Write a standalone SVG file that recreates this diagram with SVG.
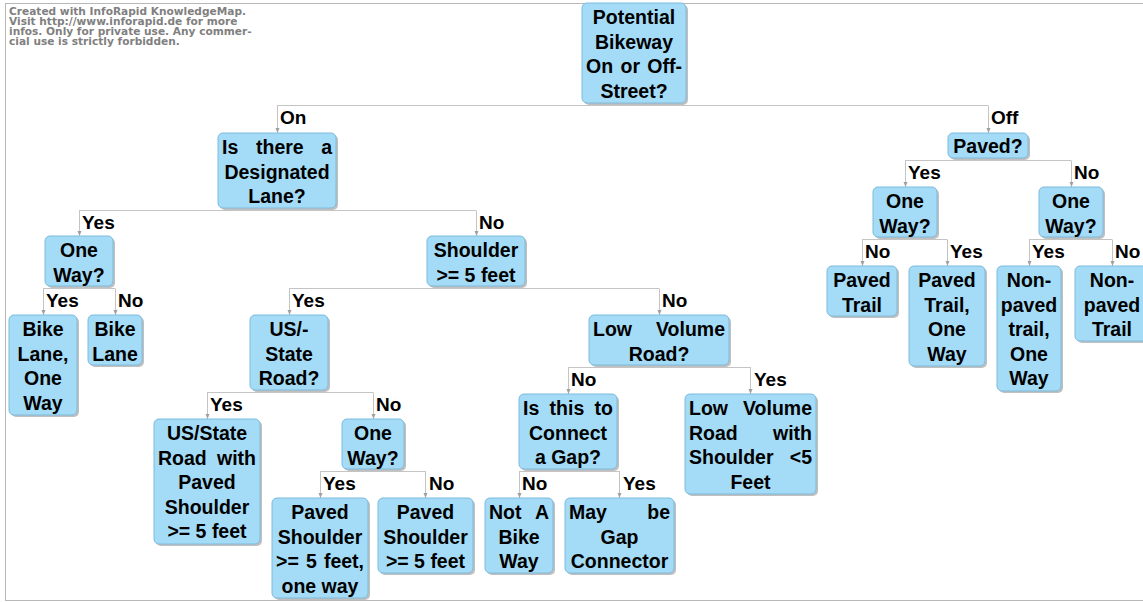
<svg xmlns="http://www.w3.org/2000/svg" width="1143" height="602" viewBox="0 0 1143 602">
<style>
.wm{font-family:"DejaVu Sans",Verdana,sans-serif;font-weight:bold;font-size:10.6px;fill:#808080}
.sh{fill:#8c8c8c;opacity:0.55}
.bx{fill:#a4dcf7;stroke:#7dbadc;stroke-width:1}
.t{font-family:"Liberation Sans",Arial,sans-serif;font-weight:bold;font-size:19.5px;fill:#000}
.c{text-anchor:middle}
.e{text-anchor:end}
.ln{stroke:#c4c4c4;stroke-width:1;fill:none}
.lb{font-family:"Liberation Sans",Arial,sans-serif;font-weight:bold;font-size:19px;fill:#000}
</style>
<defs>
<marker id="ah" markerWidth="6" markerHeight="6" refX="5" refY="3" orient="auto" markerUnits="userSpaceOnUse">
<path d="M0,1 L5,3 L0,5 z" fill="#a0a0a0"/>
</marker>
</defs>
<rect x="0" y="0" width="1143" height="602" fill="#fff"/>
<rect x="5.5" y="3.5" width="1150" height="597" fill="none" stroke="#b8b8b8" stroke-width="1"/>
<g id="watermark">
<text class="wm" x="9" y="14.5">Created with InfoRapid KnowledgeMap.</text>
<text class="wm" x="9" y="24.8">Visit http://www.inforapid.de for more</text>
<text class="wm" x="9" y="35.1">infos. Only for private use. Any commer-</text>
<text class="wm" x="9" y="45.4">cial use is strictly forbidden.</text>
</g>
<g id="connectors">
<path class="ln" d="M277,105.5 H988"/>
<path class="ln" d="M277.5,105.5 V133" marker-end="url(#ah)"/>
<path class="ln" d="M988.5,105.5 V133" marker-end="url(#ah)"/>
<text class="lb" x="280" y="123.5">On</text>
<text class="lb" x="991" y="123.5">Off</text>

<path class="ln" d="M79,210.5 H476"/>
<path class="ln" d="M79.5,210.5 V236" marker-end="url(#ah)"/>
<path class="ln" d="M476.5,210.5 V236" marker-end="url(#ah)"/>
<text class="lb" x="82" y="228.5">Yes</text>
<text class="lb" x="479" y="228.5">No</text>

<path class="ln" d="M43,288.5 H115"/>
<path class="ln" d="M43.5,288.5 V315" marker-end="url(#ah)"/>
<path class="ln" d="M115.5,288.5 V315" marker-end="url(#ah)"/>
<text class="lb" x="46" y="306.5">Yes</text>
<text class="lb" x="118" y="306.5">No</text>

<path class="ln" d="M289,288.5 H659"/>
<path class="ln" d="M289.5,288.5 V315" marker-end="url(#ah)"/>
<path class="ln" d="M659.5,288.5 V315" marker-end="url(#ah)"/>
<text class="lb" x="292" y="306.5">Yes</text>
<text class="lb" x="662" y="306.5">No</text>

<path class="ln" d="M207,392.5 H373"/>
<path class="ln" d="M207.5,392.5 V419" marker-end="url(#ah)"/>
<path class="ln" d="M373.5,392.5 V419" marker-end="url(#ah)"/>
<text class="lb" x="210" y="410.5">Yes</text>
<text class="lb" x="376" y="410.5">No</text>

<path class="ln" d="M320,471.5 H426"/>
<path class="ln" d="M320.5,471.5 V498" marker-end="url(#ah)"/>
<path class="ln" d="M425.5,471.5 V498" marker-end="url(#ah)"/>
<text class="lb" x="323" y="489.5">Yes</text>
<text class="lb" x="429" y="489.5">No</text>

<path class="ln" d="M568,367.5 H751"/>
<path class="ln" d="M568.5,367.5 V394" marker-end="url(#ah)"/>
<path class="ln" d="M750.5,367.5 V394" marker-end="url(#ah)"/>
<text class="lb" x="571" y="385.5">No</text>
<text class="lb" x="754" y="385.5">Yes</text>

<path class="ln" d="M519,471.5 H620"/>
<path class="ln" d="M519.5,471.5 V498" marker-end="url(#ah)"/>
<path class="ln" d="M619.5,471.5 V498" marker-end="url(#ah)"/>
<text class="lb" x="522" y="489.5">No</text>
<text class="lb" x="623" y="489.5">Yes</text>

<path class="ln" d="M905,160.5 H1071"/>
<path class="ln" d="M905.5,160.5 V187" marker-end="url(#ah)"/>
<path class="ln" d="M1071.5,160.5 V187" marker-end="url(#ah)"/>
<text class="lb" x="908" y="178.5">Yes</text>
<text class="lb" x="1074" y="178.5">No</text>

<path class="ln" d="M862,239.5 H947"/>
<path class="ln" d="M862.5,239.5 V266" marker-end="url(#ah)"/>
<path class="ln" d="M947.5,239.5 V266" marker-end="url(#ah)"/>
<text class="lb" x="865" y="257.5">No</text>
<text class="lb" x="950" y="257.5">Yes</text>

<path class="ln" d="M1029,239.5 H1112"/>
<path class="ln" d="M1029.5,239.5 V266" marker-end="url(#ah)"/>
<path class="ln" d="M1112.5,239.5 V266" marker-end="url(#ah)"/>
<text class="lb" x="1032" y="257.5">Yes</text>
<text class="lb" x="1115" y="257.5">No</text>
</g>

<g id="n1">
<rect class="sh" x="584" y="5" width="104" height="100" rx="5"/>
<rect class="bx" x="582" y="3" width="104" height="100" rx="5"/>
<text class="t c" x="634" y="24">Potential</text>
<text class="t c" x="634" y="48.5">Bikeway</text>
<text class="t" x="586" y="73">On</text><text class="t" x="620.5" y="73">or</text><text class="t e" x="682" y="73">Off-</text>
<text class="t c" x="634" y="97.5">Street?</text>
</g>

<g id="n2">
<rect class="sh" x="220" y="135" width="118" height="75" rx="5"/>
<rect class="bx" x="218" y="133" width="118" height="75" rx="5"/>
<text class="t" x="222" y="154">Is</text><text class="t" x="256" y="154">there</text><text class="t e" x="332" y="154">a</text>
<text class="t c" x="277" y="178.5">Designated</text>
<text class="t c" x="277" y="203">Lane?</text>
</g>

<g id="n3">
<rect class="sh" x="47" y="238" width="68" height="50" rx="5"/>
<rect class="bx" x="45" y="236" width="68" height="50" rx="5"/>
<text class="t c" x="79" y="257">One</text>
<text class="t c" x="79" y="281.5">Way?</text>
</g>

<g id="n4">
<rect class="sh" x="11" y="317" width="68" height="100" rx="5"/>
<rect class="bx" x="9" y="315" width="68" height="100" rx="5"/>
<text class="t c" x="43" y="336">Bike</text>
<text class="t c" x="43" y="360.5">Lane,</text>
<text class="t c" x="43" y="385">One</text>
<text class="t c" x="43" y="409.5">Way</text>
</g>

<g id="n5">
<rect class="sh" x="90" y="317" width="54" height="50" rx="5"/>
<rect class="bx" x="88" y="315" width="54" height="50" rx="5"/>
<text class="t c" x="115" y="336">Bike</text>
<text class="t c" x="115" y="360.5">Lane</text>
</g>

<g id="n6">
<rect class="sh" x="429" y="238" width="98" height="50" rx="5"/>
<rect class="bx" x="427" y="236" width="98" height="50" rx="5"/>
<text class="t c" x="476" y="257">Shoulder</text>
<text class="t c" x="476" y="281.5">&gt;= 5 feet</text>
</g>

<g id="n7">
<rect class="sh" x="252" y="317" width="78" height="75" rx="5"/>
<rect class="bx" x="250" y="315" width="78" height="75" rx="5"/>
<text class="t c" x="289" y="336">US/-</text>
<text class="t c" x="289" y="360.5">State</text>
<text class="t c" x="289" y="385">Road?</text>
</g>

<g id="n8">
<rect class="sh" x="156" y="421" width="106" height="125" rx="5"/>
<rect class="bx" x="154" y="419" width="106" height="125" rx="5"/>
<text class="t c" x="207" y="440">US/State</text>
<text class="t" x="158" y="464.5">Road</text><text class="t e" x="256" y="464.5">with</text>
<text class="t c" x="207" y="489">Paved</text>
<text class="t c" x="207" y="513.5">Shoulder</text>
<text class="t c" x="207" y="538">&gt;= 5 feet</text>
</g>

<g id="n9">
<rect class="sh" x="344" y="421" width="62" height="50" rx="5"/>
<rect class="bx" x="342" y="419" width="62" height="50" rx="5"/>
<text class="t c" x="373" y="440">One</text>
<text class="t c" x="373" y="464.5">Way?</text>
</g>

<g id="n10">
<rect class="sh" x="274" y="500" width="96" height="100" rx="5"/>
<rect class="bx" x="272" y="498" width="96" height="100" rx="5"/>
<text class="t c" x="320" y="519">Paved</text>
<text class="t c" x="320" y="543.5">Shoulder</text>
<text class="t" x="276" y="568">&gt;=</text><text class="t" x="306" y="568">5</text><text class="t e" x="364" y="568">feet,</text>
<text class="t c" x="320" y="592.5">one way</text>
</g>

<g id="n11">
<rect class="sh" x="380" y="500" width="95" height="75" rx="5"/>
<rect class="bx" x="378" y="498" width="95" height="75" rx="5"/>
<text class="t c" x="425.5" y="519">Paved</text>
<text class="t c" x="425.5" y="543.5">Shoulder</text>
<text class="t c" x="425.5" y="568">&gt;= 5 feet</text>
</g>

<g id="n12">
<rect class="sh" x="591" y="317" width="140" height="50" rx="5"/>
<rect class="bx" x="589" y="315" width="140" height="50" rx="5"/>
<text class="t" x="593" y="336">Low</text><text class="t e" x="725" y="336">Volume</text>
<text class="t c" x="659" y="360.5">Road?</text>
</g>

<g id="n13">
<rect class="sh" x="521" y="396" width="98" height="75" rx="5"/>
<rect class="bx" x="519" y="394" width="98" height="75" rx="5"/>
<text class="t" x="523" y="415">Is</text><text class="t" x="549.6" y="415">this</text><text class="t e" x="613" y="415">to</text>
<text class="t c" x="568" y="439.5">Connect</text>
<text class="t c" x="568" y="464">a Gap?</text>
</g>

<g id="n14">
<rect class="sh" x="687" y="396" width="131" height="100" rx="5"/>
<rect class="bx" x="685" y="394" width="131" height="100" rx="5"/>
<text class="t" x="689" y="415">Low</text><text class="t e" x="812" y="415">Volume</text>
<text class="t" x="689" y="439.5">Road</text><text class="t e" x="812" y="439.5">with</text>
<text class="t" x="689" y="464">Shoulder</text><text class="t e" x="812" y="464">&lt;5</text>
<text class="t c" x="750.5" y="488.5">Feet</text>
</g>

<g id="n15">
<rect class="sh" x="487" y="500" width="68" height="75" rx="5"/>
<rect class="bx" x="485" y="498" width="68" height="75" rx="5"/>
<text class="t" x="489" y="519">Not</text><text class="t e" x="549" y="519">A</text>
<text class="t c" x="519" y="543.5">Bike</text>
<text class="t c" x="519" y="568">Way</text>
</g>

<g id="n16">
<rect class="sh" x="567" y="500" width="109" height="75" rx="5"/>
<rect class="bx" x="565" y="498" width="109" height="75" rx="5"/>
<text class="t" x="569" y="519">May</text><text class="t e" x="670" y="519">be</text>
<text class="t c" x="619.5" y="543.5">Gap</text>
<text class="t c" x="619.5" y="568">Connector</text>
</g>

<g id="n17">
<rect class="sh" x="950" y="135" width="80" height="25" rx="5"/>
<rect class="bx" x="948" y="133" width="80" height="25" rx="5"/>
<text class="t c" x="988" y="153">Paved?</text>
</g>

<g id="n18">
<rect class="sh" x="875" y="189" width="64" height="50" rx="5"/>
<rect class="bx" x="873" y="187" width="64" height="50" rx="5"/>
<text class="t c" x="905" y="208">One</text>
<text class="t c" x="905" y="232.5">Way?</text>
</g>

<g id="n19">
<rect class="sh" x="829" y="268" width="70" height="50" rx="5"/>
<rect class="bx" x="827" y="266" width="70" height="50" rx="5"/>
<text class="t c" x="862" y="287">Paved</text>
<text class="t c" x="862" y="311.5">Trail</text>
</g>

<g id="n20">
<rect class="sh" x="911" y="268" width="76" height="100" rx="5"/>
<rect class="bx" x="909" y="266" width="76" height="100" rx="5"/>
<text class="t c" x="947" y="287">Paved</text>
<text class="t c" x="947" y="311.5">Trail,</text>
<text class="t c" x="947" y="336">One</text>
<text class="t c" x="947" y="360.5">Way</text>
</g>

<g id="n21">
<rect class="sh" x="1041" y="189" width="64" height="50" rx="5"/>
<rect class="bx" x="1039" y="187" width="64" height="50" rx="5"/>
<text class="t c" x="1071" y="208">One</text>
<text class="t c" x="1071" y="232.5">Way?</text>
</g>

<g id="n22">
<rect class="sh" x="999" y="268" width="64" height="125" rx="5"/>
<rect class="bx" x="997" y="266" width="64" height="125" rx="5"/>
<text class="t c" x="1029" y="287">Non-</text>
<text class="t c" x="1029" y="311.5">paved</text>
<text class="t c" x="1029" y="336">trail,</text>
<text class="t c" x="1029" y="360.5">One</text>
<text class="t c" x="1029" y="385">Way</text>
</g>

<g id="n23">
<rect class="sh" x="1077" y="268" width="74" height="75" rx="5"/>
<rect class="bx" x="1075" y="266" width="74" height="75" rx="5"/>
<text class="t c" x="1112" y="287">Non-</text>
<text class="t c" x="1112" y="311.5">paved</text>
<text class="t c" x="1112" y="336">Trail</text>
</g>
</svg>
